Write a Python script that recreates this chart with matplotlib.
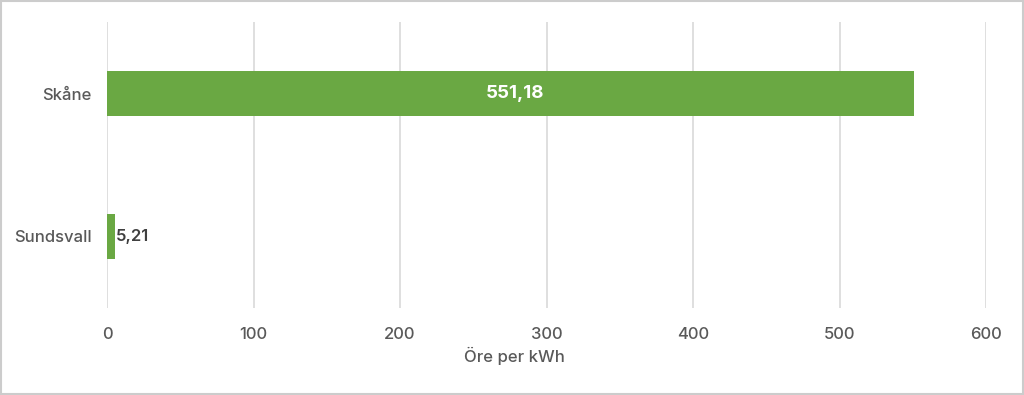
import matplotlib.pyplot as plt
from matplotlib.patches import Rectangle

plt.rcParams['font.family'] = ['Inter', 'DejaVu Sans']

regions = ['Sundsvall', 'Skåne']
prices = [5.21, 551.18]
labels = ['5,21', '551,18']
ticks = [0, 100, 200, 300, 400, 500, 600]

green = '#6aa843'
text_col = '#595959'

fig = plt.figure(figsize=(10.24, 3.95), dpi=100)
ax = fig.add_axes([107 / 1024, 87 / 395, 879 / 1024, 286 / 395])

ax.barh(range(len(regions)), prices, height=0.31, color=green, zorder=3)

# value labels
for i, (v, lab) in enumerate(zip(prices, labels)):
    if v > 100:
        ax.text(v / 2 + 3, i, lab, color='white', ha='center', va='center',
                fontsize=13.5, fontweight='bold', zorder=4)
    else:
        ax.text(v + 1, i, lab, color='#404040', ha='left', va='center',
                fontsize=12, fontweight='semibold', zorder=4)

ax.set_xlim(0, 600)
ax.set_ylim(-0.5, 1.5)
ax.set_xticks(ticks)
ax.set_xticklabels([str(t) for t in ticks])
ax.set_yticks(range(len(regions)))
ax.set_yticklabels(regions)
ax.tick_params(axis='both', length=0, colors=text_col, labelsize=12)
for t in ax.get_xticklabels() + ax.get_yticklabels():
    t.set_fontweight('medium')
ax.tick_params(axis='x', pad=14)
ax.tick_params(axis='y', pad=11)
ax.grid(axis='x', color='#d9d9d9', linewidth=1.2, zorder=0)
for s in ax.spines.values():
    s.set_visible(False)
ax.set_xlabel('Öre per kWh', color=text_col, fontsize=12, fontweight='medium')
ax.xaxis.set_label_coords(0.464, -0.135)

# image border
fig.patches.append(Rectangle((0.001, 0.002), 0.998, 0.996, transform=fig.transFigure,
                             fill=False, edgecolor='#cccccc', linewidth=1.5))

fig.savefig('out.png', dpi=100)
